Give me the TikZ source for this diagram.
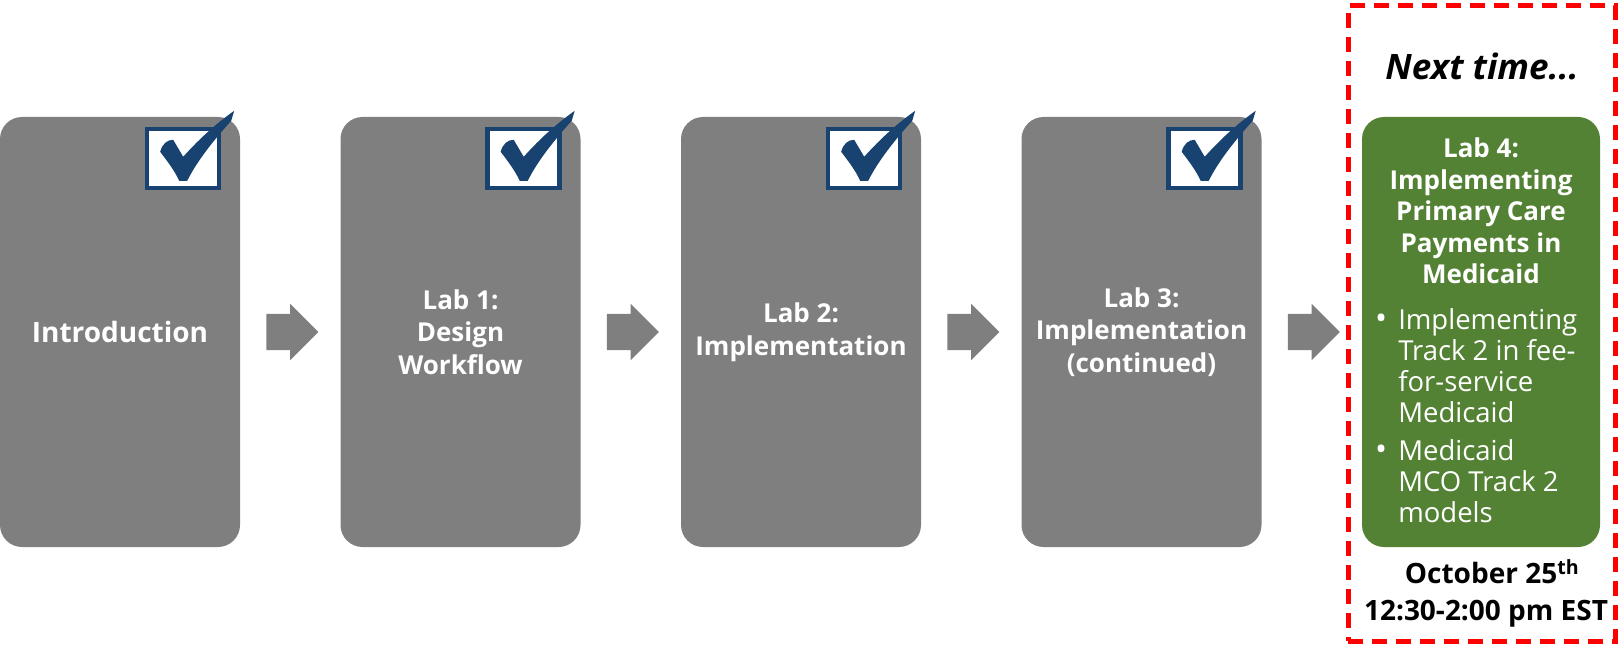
\documentclass[tikz,border=0pt]{standalone}
\usepackage{fontspec}
\setmainfont{Open Sans}
\usepackage{xcolor}
\usetikzlibrary{shapes.arrows, positioning, calc}
\definecolor{labGray}{RGB}{127,127,127}
\definecolor{labGreen}{RGB}{84,130,53}
\definecolor{tickBlue}{RGB}{24,66,112}
\definecolor{nextRed}{RGB}{255,0,0}

\tikzset{tickbox/.pic={
    \draw[tickBlue, line width=4.5pt, fill=white] (2,2) rectangle (74,61);
    \fill[tickBlue] (15,25) .. controls (17,17) and (22,13) .. (28,13) -- (38,30)
        .. controls (55,11) and (72,-4) .. (89,-16) -- (86,-6)
        .. controls (68,14) and (52,34) .. (42,54) -- (34,54)
        .. controls (29,43) and (21,33) .. cycle;
}}

\begin{document}
\begin{tikzpicture}[x=1pt, y=-1pt]
        \tikzstyle{labbox} = [rectangle, rounded corners=22pt, minimum width=240pt, minimum height=430pt, align=center, text=white, fill=labGray, font=\fontsize{26}{32.5}\selectfont\bfseries]
        \tikzstyle{stepArrow} = [single arrow, fill=labGray, minimum height=52pt, single arrow head extend=10pt, inner xsep=0pt, inner ysep=18pt]
        \tikzstyle{nextframe} = [rectangle, draw=nextRed, line width=5pt, dash pattern=on 15pt off 9pt, minimum width=267pt, minimum height=635pt]
        \newcommand{\bigdot}{{\fontsize{32}{31}\selectfont\textbullet}}
        \useasboundingbox (0,0) rectangle (1619,647);

        % Sessions done so far
        \node[labbox, font=\fontsize{28}{32.5}\selectfont\bfseries] (intro) at (120,332) {Introduction};
        \node[labbox] (lab1) at (460.5,332) {Lab 1:\\Design\\Workflow};
        \node[labbox] (lab2) at (801,332) {Lab 2:\\Implementation};
        \node[labbox] (lab3) at (1141.5,332) {Lab 3:\\Implementation\\(continued)};

        % Next session
        \node[labbox, fill=labGreen, minimum width=238pt] (lab4) at (1481,332) {};
        \node[text=white, align=center, font=\fontsize{26}{31.5}\selectfont\bfseries] (lab4head) at (1481,211) {Lab 4:\\Implementing\\Primary Care\\Payments in\\Medicaid};
        \node[text=white, anchor=west, inner sep=0pt, font=\fontsize{27.5}{31}\selectfont] (lab4list) at (1375,420) {%
            \begin{tabular}{@{}l@{\hspace{11pt}}l@{}}
            \bigdot & Implementing\\
             & Track 2 in fee-\\
             & for-service\\
             & Medicaid\\[7pt]
            \bigdot & Medicaid\\
             & MCO Track 2\\
             & models
            \end{tabular}};
        \node[nextframe] (nextbox) at (1481.5,323.5) {};
        \node[font=\fontsize{35}{40}\selectfont\bfseries\itshape] (nexttitle) at (1482,66.5) {Next time...};
        \node[align=center, font=\fontsize{28}{37}\selectfont\bfseries] (nextdate) at (1486,593) {\hspace*{12pt}October 25\textsuperscript{th}\\12:30-2:00 pm EST};

        % Arrows between sessions
        \node[stepArrow, right=26pt of intro] (a1) {};
        \node[stepArrow, right=26pt of lab1] (a2) {};
        \node[stepArrow, right=26pt of lab2] (a3) {};
        \node[stepArrow, right=26pt of lab3] (a4) {};

        % Ticks
        \foreach \b in {intro, lab1, lab2, lab3}
            \pic at ($(\b.north east)+(-95,10)$) {tickbox};
    \end{tikzpicture}
\end{document}
